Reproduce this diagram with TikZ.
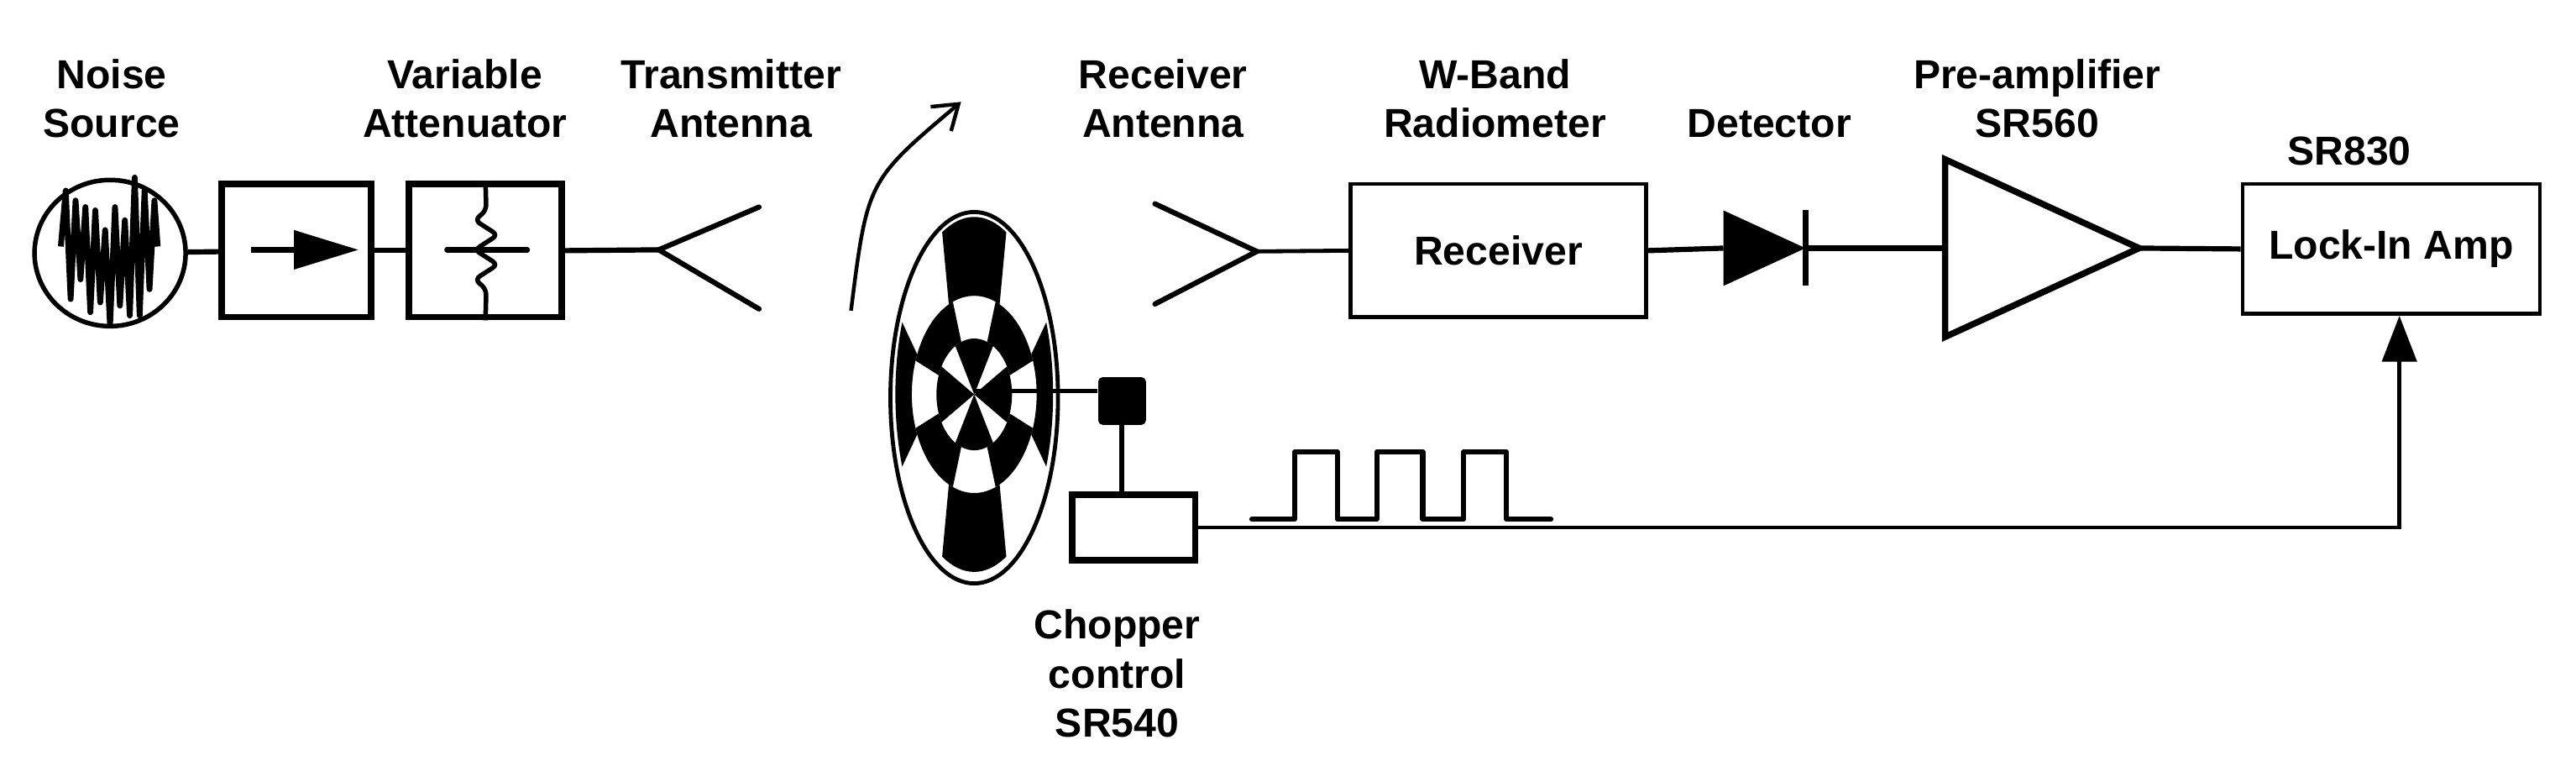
\documentclass[tikz,border=0pt]{standalone}
\usepackage{fontspec}
\setmainfont{Liberation Sans}
\usetikzlibrary{arrows.meta,calc,shapes.geometric}

\tikzset{
    lbl/.style={font=\bfseries\fontsize{14}{17}\selectfont, align=center, inner sep=0pt},
    blk/.style={draw, line width=2.2pt, inner sep=0pt},
    box/.style={draw, line width=1.3pt, inner sep=0pt, font=\bfseries\fontsize{14}{17}\selectfont},
    wire/.style={line width=1.8pt},
}

\begin{document}
\begin{tikzpicture}[x=0.02cm, y=-0.02cm]
\useasboundingbox (0,0) rectangle (1568,466);

% labels
\node[lbl] (lnoise) at (68,60) {Noise\\Source};
\node[lbl] (latt) at (283,60) {Variable\\Attenuator};
\node[lbl] (ltx) at (445,60) {Transmitter\\Antenna};
\node[lbl] (lrx) at (708,60) {Receiver\\Antenna};
\node[lbl] (lwb) at (910,60) {W-Band\\Radiometer};
\node[lbl] (ldet) at (1077,75) {Detector};
\node[lbl] (lpre) at (1240,60) {Pre-amplifier\\SR560};
\node[lbl] (llock) at (1430,92) {SR830};
\node[lbl] (lchop) at (680,410) {Chopper\\control\\SR540};

% source side
\node[draw, ellipse, line width=1.6pt, minimum width=1.84cm, minimum height=1.78cm, inner sep=0pt] (noise) at (67,154) {};
\draw[line width=2pt, line join=round]
    (37,150) -- (40,116) -- (43,182) -- (46,122) -- (49,170) -- (52,126) -- (55,190) -- (58,128)
    -- (61,184) -- (64,140) -- (67,198) -- (70,126) -- (73,186) -- (76,134) -- (79,192)
    -- (82,108) -- (85,192) -- (88,116) -- (91,176) -- (94,122) -- (96,150);
\node[blk, minimum width=1.82cm, minimum height=1.62cm] (iso) at (180.5,152.5) {};
\draw[wire] (153,152) -- (181,152);
\fill (179,140) -- (218,152) -- (179,164) -- cycle;
\node[blk, minimum width=1.86cm, minimum height=1.62cm] (att) at (295.5,152.5) {};
\draw[line width=1.6pt, rounded corners=2pt] (att.north) -- (296,128) -- (289,134) -- (303,143)
    -- (289,152) -- (303,161) -- (289,170) -- (296,176) -- (att.south);
\draw[line width=1.8pt, line cap=round] (272,152) -- (321,152);
\coordinate (txtip) at (401,152);
\draw[wire] (noise) -- (iso);
\draw[wire] (iso) -- (att);
\draw[wire] (att.east) -- (txtip);
\draw[wire, line cap=round] (462,126) -- (txtip) -- (462,188);

% rotation arrow
\coordinate (rots) at (518,189);
\coordinate (rote) at (585,62);
\draw[line width=1.3pt, -{Straight Barb[length=8pt, width=11pt, line width=1.3pt]}]
    (rots) .. controls (528,110) .. (rote);

% chopper wheel
\begin{scope}[shift={(593,240)}]
\fill[white] (0,2) ellipse[x radius=51, y radius=114];
\foreach \cc/\hh/\xi/\yi/\xo/\yo in {0/30/0.1/0.1/23/34, 45/25/23/34/38/60, 0/24/38/60/48/108} {
  \foreach \k in {0,...,3} {
    \pgfmathsetmacro\aa{\cc+90*\k-\hh}
    \pgfmathsetmacro\ab{\cc+90*\k+\hh}
    \fill ({\xi*cos(\aa)},{\yi*sin(\aa)}) -- ({\xo*cos(\aa)},{\yo*sin(\aa)})
      arc[start angle=\aa, end angle=\ab, x radius=\xo, y radius=\yo]
      -- ({\xi*cos(\ab)},{\yi*sin(\ab)})
      arc[start angle=\ab, end angle=\aa, x radius=\xi, y radius=\yi] -- cycle;
  }
}
\draw[line width=1.4pt] (0,2) ellipse[x radius=51, y radius=113];
\end{scope}
\coordinate (hub) at (593,238);
\node[fill, rounded corners=1.5pt, minimum width=0.58cm, minimum height=0.58cm, inner sep=0pt] (motor) at (683,244) {};
\node[blk, minimum width=1.5cm, minimum height=0.8cm] (ctl) at (690,321) {};
\draw[line width=1.6pt] (hub) -- (motor.west |- hub);
\draw[line width=1.8pt] (motor) -- (ctl.north -| motor);

% pulse train
\draw[line width=1.8pt, line cap=round, line join=round]
    (762,316) -- (788,316) -- (788,275) -- (814,275) -- (814,316) -- (838,316) -- (838,275)
    -- (866,275) -- (866,316) -- (891,316) -- (891,275) -- (917,275) -- (917,316) -- (944,316);

% receiver side
\coordinate (rxtip) at (765,153);
\draw[wire, line cap=round] (703,124) -- (rxtip) -- (703,185);
\node[box, minimum width=3.6cm, minimum height=1.62cm] (rcv) at (912,152.5) {Receiver};
\draw[line width=1.4pt] (rxtip) -- (rcv.west);
\coordinate (dioa) at (1049,151);
\coordinate (diok) at (1099,151);
\fill (1049,128) -- (diok) -- (1049,174) -- cycle;
\draw[line width=2pt] (1099,128) -- (1099,174);
\coordinate (ampin) at (1184,151);
\coordinate (ampout) at (1302,151);
\draw[line width=2.2pt, line join=miter] (1184,97) -- (ampout) -- (1184,205) -- cycle;
\node[box, minimum width=3.62cm, minimum height=1.58cm] (lock) at (1455.5,151.5) {Lock-In Amp};
\draw[wire] (rcv.east) -- (dioa);
\draw[wire] (diok) -- (ampin);
\draw[wire] (ampout) -- (lock.west);
\draw[line width=1.3pt, -{Triangle[length=0.56cm, width=0.42cm]}]
    (ctl.east) -| ($(lock.south)+(5,0)$);
\end{tikzpicture}
\end{document}
